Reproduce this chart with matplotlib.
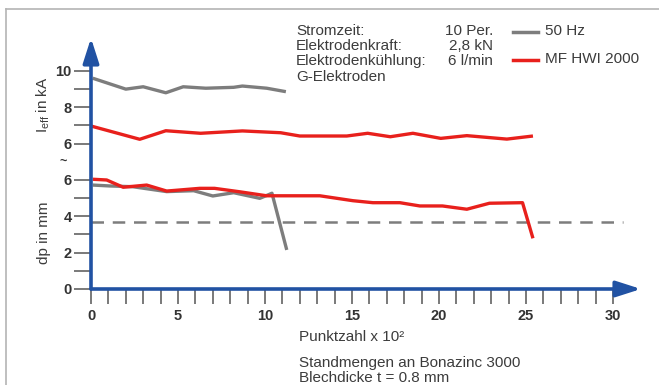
import matplotlib
matplotlib.use("Agg")
import matplotlib.pyplot as plt
from matplotlib.lines import Line2D

plt.rcParams["font.family"] = ["Liberation Sans", "DejaVu Sans"]
plt.rcParams["mathtext.default"] = "regular"

# Upper part: welding current in kA, lower part: electrode diameter dp in mm
gray_kA_x = [0.1, 2.0, 3.0, 4.3, 5.3, 6.6, 8.2, 8.7, 10.1, 11.2]
gray_kA = [9.6, 9.0, 9.13, 8.8, 9.13, 9.05, 9.1, 9.17, 9.05, 8.86]

red_kA_x = [0.0, 2.8, 4.3, 6.3, 8.7, 10.9, 12.0, 14.7, 15.9, 17.2, 18.5, 20.1, 21.6, 23.9, 25.4]
red_kA = [6.97, 6.24, 6.71, 6.57, 6.7, 6.6, 6.42, 6.42, 6.57, 6.38, 6.57, 6.29, 6.44, 6.25, 6.42]

gray_dp_x = [0.1, 1.1, 2.4, 4.35, 5.9, 7.0, 8.2, 9.7, 10.4, 11.25]
gray_dp = [5.72, 5.67, 5.63, 5.36, 5.41, 5.12, 5.3, 4.99, 5.27, 2.15]

red_dp_x = [0.1, 0.9, 1.85, 3.2, 4.35, 6.25, 7.1, 8.55, 10.1, 13.15, 15.05, 16.2,
            17.75, 18.9, 20.2, 21.6, 22.9, 24.8, 25.4]
red_dp = [6.04, 6.0, 5.6, 5.72, 5.39, 5.54, 5.54, 5.35, 5.13, 5.13, 4.86, 4.75,
          4.75, 4.57, 4.57, 4.39, 4.72, 4.75, 2.79]

dp_limit = 3.7
dp_limit_x = [0, 30.6]

x_major = [0, 5, 10, 15, 20, 25, 30]
y_tick_pos = [0, 1, 2, 3, 4, 5, 6, 8, 9, 10, 11, 12]
y_tick_labels = ["0", "", "2", "", "4", "", "6", "6", "", "8", "", "10"]
kA_offset = 2  # kA value k is drawn at k + 2 on the shared axis

BLUE = "#2152a3"
RED = "#e8201c"
GRAY = "#7d7d7d"
TXT = "#3c3c3c"

W, H = 659, 385
fig = plt.figure(figsize=(W / 100, H / 100), dpi=100)
ax = fig.add_axes([91 / W, (H - 289) / H, (641 - 91) / W, (289 - 38) / H])
ax.set_xlim(0, 550 / 17.4)
ax.set_ylim(0, 251 / 18.17)

ax.plot(gray_kA_x, [v + kA_offset for v in gray_kA], color=GRAY, lw=2.4, solid_capstyle="butt")
ax.plot(red_kA_x, [v + kA_offset for v in red_kA], color=RED, lw=2.4, solid_capstyle="butt")
ax.plot(dp_limit_x, [dp_limit, dp_limit], color=GRAY, lw=1.8, dashes=(5, 3.5))
ax.plot(gray_dp_x, gray_dp, color=GRAY, lw=2.4, solid_capstyle="butt")
ax.plot(red_dp_x, red_dp, color=RED, lw=2.4, solid_capstyle="butt")

for s in ax.spines.values():
    s.set_visible(False)
ax.patch.set_alpha(0)

ax.set_xticks(x_major)
ax.set_xticks(range(0, 31), minor=True)
ax.set_yticks(y_tick_pos)
ax.set_yticklabels(y_tick_labels)
ax.tick_params(axis="x", which="both", direction="out", length=10.5, width=1.1,
               color="#555555", pad=4, labelsize=10.5, labelcolor="#333333")
ax.tick_params(axis="y", direction="out", length=12, width=1.1,
               color="#555555", pad=2, labelsize=10.5, labelcolor="#333333")
for lab in ax.get_xticklabels() + ax.get_yticklabels():
    lab.set_fontweight("bold")

arrow = dict(arrowstyle="-|>,head_length=0.75,head_width=0.24", color=BLUE,
             lw=2.6, mutation_scale=20, shrinkA=0, shrinkB=0)
ax.annotate("", xy=(0, 1), xytext=(0, 0), xycoords="axes fraction", arrowprops=arrow)
ax.annotate("", xy=(1.0, 0), xytext=(0, 0), xycoords="axes fraction", arrowprops=arrow)

# axis break sign between the two scales
ax.text(-28 / 550 * ax.get_xlim()[1], 7, "~", ha="center", va="center",
        fontsize=9, fontweight="bold", color="#333333")

fig.text(43 / W, 1 - 105 / H, "I$_{eff}$ in kA", rotation=90, ha="center",
         va="center", fontsize=11, color=TXT)
fig.text(44 / W, 1 - 233 / H, "dp in mm", rotation=90, ha="center",
         va="center", fontsize=11, color=TXT)

params = ["Stromzeit:", "Elektrodenkraft:", "Elektrodenkühlung:", "G-Elektroden"]
values = ["10 Per.", "2,8 kN", "6 l/min", ""]
rows_y = [31, 46, 61, 77]
for p, v, yy in zip(params, values, rows_y):
    fig.text(296 / W, 1 - yy / H, p, ha="left", va="center", fontsize=11, color=TXT)
    fig.text(493 / W, 1 - yy / H, v, ha="right", va="center", fontsize=11, color=TXT)

legend_items = [("50 Hz", GRAY, 32), ("MF HWI 2000", RED, 60)]
for name, col, yy in legend_items:
    fig.add_artist(Line2D([513 / W, 538 / W], [1 - yy / H, 1 - yy / H],
                          color=col, lw=2.5, transform=fig.transFigure))
    fig.text(545 / W, 1 - (yy - 1) / H, name, ha="left", va="center",
             fontsize=11, color=TXT)

fig.text(299 / W, 1 - 337 / H, "Punktzahl x 10²", ha="left", va="center",
         fontsize=11, color=TXT)
fig.text(299 / W, 1 - 363 / H, "Standmengen an Bonazinc 3000", ha="left",
         va="center", fontsize=11, color=TXT)
fig.text(299 / W, 1 - 378.5 / H, "Blechdicke t = 0.8 mm", ha="left",
         va="center", fontsize=11, color=TXT)

# light frame (top and left edge)
fig.add_artist(Line2D([6 / W, 1], [1 - 9 / H, 1 - 9 / H], color="#b4b4b4",
                      lw=1.2, transform=fig.transFigure))
fig.add_artist(Line2D([6 / W, 6 / W], [0, 1 - 9 / H], color="#b4b4b4",
                      lw=1.2, transform=fig.transFigure))

fig.savefig("out.png", dpi=100)
plt.close(fig)
